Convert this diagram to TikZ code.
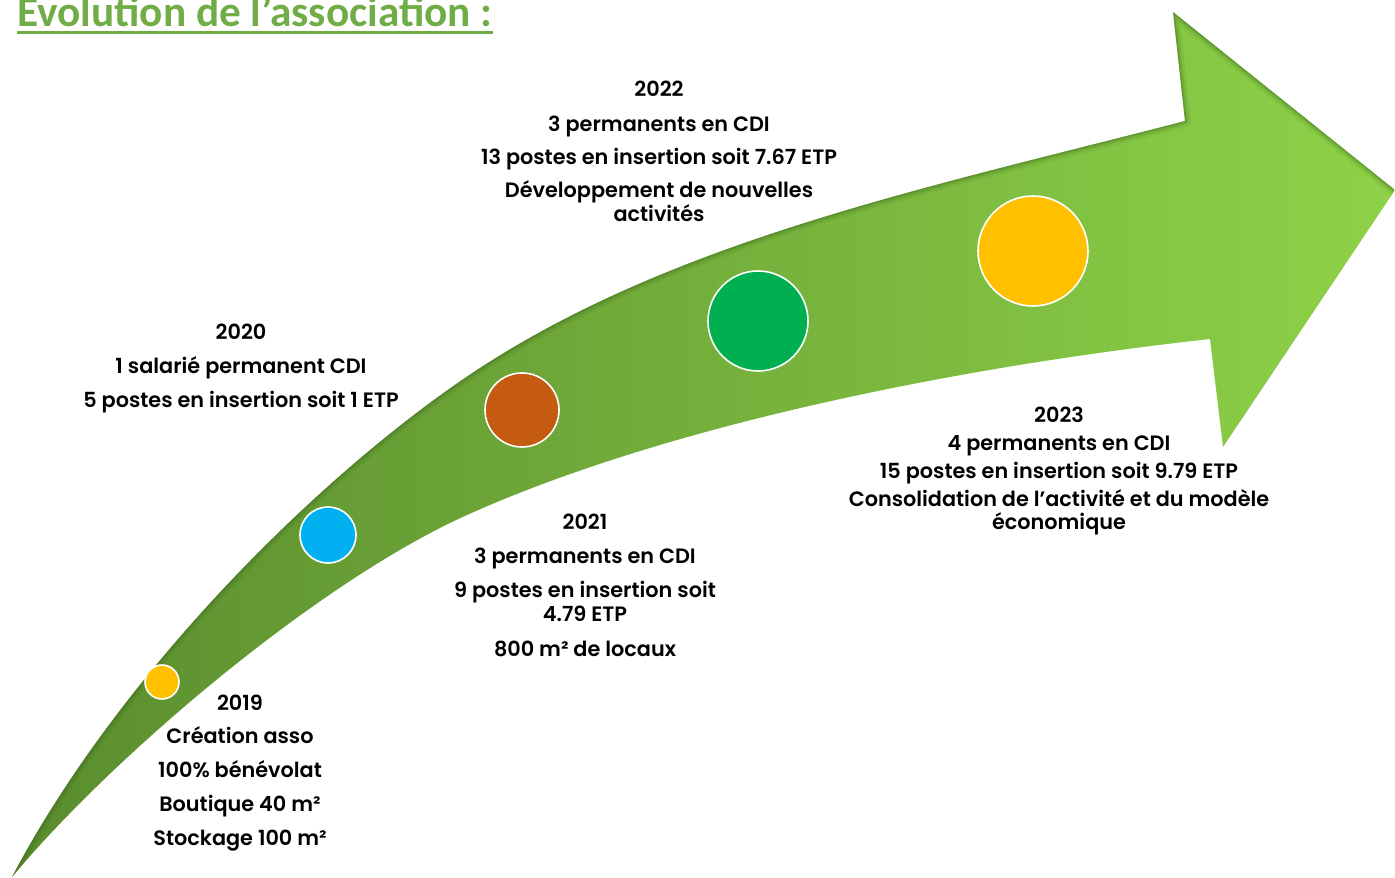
\documentclass[tikz,border=0pt]{standalone}
\usepackage{fontspec}
\newfontfamily\titlefont{Carlito}
\newfontfamily\bodyfont{Poppins SemiBold}
\definecolor{titlegreen}{HTML}{70AD47}
\definecolor{arrowdark}{HTML}{5A8C2E}
\definecolor{arrowlight}{HTML}{8ED248}
\definecolor{shadowgreen}{HTML}{3A651B}
\definecolor{dotyellow}{HTML}{FFC000}
\definecolor{dotblue}{HTML}{00B0F0}
\definecolor{dotorange}{HTML}{C55A11}
\definecolor{dotgreen}{HTML}{00B050}
\begin{document}
\begin{tikzpicture}[x=1pt,y=-1pt,
  dot/.style={circle, draw=white, line width=1.6pt, inner sep=0pt},
  info/.style={font=\bodyfont\fontsize{20.8}{24}\selectfont, anchor=base, inner sep=0pt, text=black},
  titlestyle/.style={font=\titlefont\bfseries\fontsize{43.3}{50}\selectfont, text=titlegreen, anchor=base west, inner sep=0pt}
]
\useasboundingbox (0,0) rectangle (1395,878);

% arrow body
\shade[left color=arrowdark, right color=arrowlight]
  (12,877) .. controls (122,668) and (330,465.5) .. (480,368)
  .. controls (680,238) and (935,186) .. (1185,121)
  -- (1173,12) -- (1395,190) -- (1223,447) -- (1210,339)
  .. controls (960,366.5) and (667,425) .. (467,515)
  .. controls (317,582.5) and (112,757) .. (12,877) -- cycle;

% inner shadow along the upper edges
\begin{scope}
  \clip (12,877) .. controls (122,668) and (330,465.5) .. (480,368)
  .. controls (680,238) and (935,186) .. (1185,121)
  -- (1173,12) -- (1395,190) -- (1223,447) -- (1210,339)
  .. controls (960,366.5) and (667,425) .. (467,515)
  .. controls (317,582.5) and (112,757) .. (12,877) -- cycle;
  \foreach \w/\o in {12/0.10, 7/0.16, 3/0.28}
    \draw[shadowgreen, line width=\w pt, opacity=\o, line join=round]
      (12,877) .. controls (122,668) and (330,465.5) .. (480,368)
      .. controls (680,238) and (935,186) .. (1185,121)
      -- (1173,12) -- (1395,190);
\end{scope}

% title
\node[titlestyle] (title) at (17,27) {Evolution de l’association :};
\draw[titlegreen, line width=3pt] ([yshift=-5.5pt]title.base west) -- ([yshift=-5.5pt]title.base east);

% dots
\node[dot, fill=dotyellow, minimum size=34pt] (d2019) at (162,682) {};
\node[dot, fill=dotblue, minimum size=56pt] (d2020) at (328,535) {};
\node[dot, fill=dotorange, minimum size=74pt] (d2021) at (522,410) {};
\node[dot, fill=dotgreen, minimum size=100pt] (d2022) at (758,321) {};
\node[dot, fill=dotyellow, minimum size=110pt] (d2023) at (1033,251) {};

% texts
\foreach \y/\t [count=\i] in {710/2019, 743/Création asso, 777/100\% bénévolat, 811/Boutique 40 m², 845/Stockage 100 m²}
  \node[info] (t19-\i) at (240,\y) {\t};
\foreach \y/\t [count=\i] in {339/2020, 373/1 salarié permanent CDI, 407/5 postes en insertion soit 1 ETP}
  \node[info] (t20-\i) at (241,\y) {\t};
\foreach \y/\t [count=\i] in {529/2021, 563/3 permanents en CDI, 597/9 postes en insertion soit, 621/4.79 ETP, 656/800 m² de locaux}
  \node[info] (t21-\i) at (585,\y) {\t};
\foreach \y/\t [count=\i] in {96/2022, 131/3 permanents en CDI, 164/13 postes en insertion soit 7.67 ETP, 197/Développement de nouvelles, 221/activités}
  \node[info] (t22-\i) at (659,\y) {\t};
\foreach \y/\t [count=\i] in {422/2023, 450/4 permanents en CDI, 478/15 postes en insertion soit 9.79 ETP, 506/Consolidation de l’activité et du modèle, 529/économique}
  \node[info] (t23-\i) at (1059,\y) {\t};
\end{tikzpicture}
\end{document}
